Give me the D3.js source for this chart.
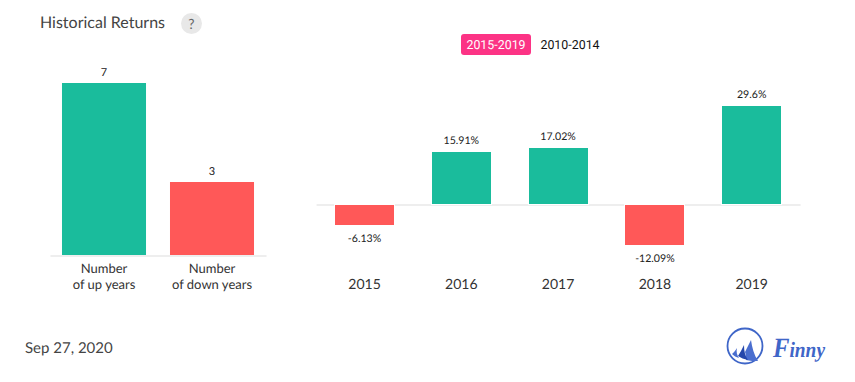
<!DOCTYPE html>
<html>
<head>
<meta charset="utf-8">
<script src="https://cdnjs.cloudflare.com/ajax/libs/d3/7.8.5/d3.min.js"></script>
<style>
  html, body { margin: 0; padding: 0; background: #fff; overflow: hidden; }
  text { font-family: Lato, sans-serif; text-rendering: geometricPrecision; }
</style>
</head>
<body>
<script>
const countLabels = ["Number of up years", "Number of down years"];
const countValues = [7, 3];
const years = ["2015", "2016", "2017", "2018", "2019"];
const returns = [-6.13, 15.91, 17.02, -12.09, 29.6];
const returnLabels = ["-6.13%", "15.91%", "17.02%", "-12.09%", "29.6%"];

const green = "#1abc9c";
const red = "#ff5858";
const axisGrey = "#e8e8e8";

const svg = d3.select("body").append("svg")
    .attr("width", 855)
    .attr("height", 382)
    .style("display", "block");

// Title and help icon
svg.append("text")
    .attr("x", 40).attr("y", 28)
    .attr("fill", "#444")
    .style("font-size", "16px")
    .text("Historical Returns");
svg.append("circle")
    .attr("cx", 191.5).attr("cy", 23.5).attr("r", 10.5)
    .attr("fill", "#e8e8e8");
svg.append("text")
    .attr("x", 191.5).attr("y", 28.5)
    .attr("text-anchor", "middle")
    .attr("fill", "#666")
    .style("font-size", "14px")
    .text("?");

// Period switch
svg.append("rect")
    .attr("x", 461).attr("y", 34).attr("width", 70).attr("height", 21).attr("rx", 3)
    .attr("fill", "#fc3385");
svg.append("text")
    .attr("x", 496).attr("y", 49)
    .attr("text-anchor", "middle")
    .attr("fill", "#fff")
    .style("font-family", "Roboto, sans-serif")
    .style("font-size", "12.4px")
    .text("2015-2019");
svg.append("text")
    .attr("x", 570).attr("y", 49)
    .attr("text-anchor", "middle")
    .attr("fill", "#111")
    .style("font-family", "Roboto, sans-serif")
    .style("font-size", "12.4px")
    .text("2010-2014");

// Left chart: number of up and down years
const xCount = d3.scaleBand()
    .domain(countLabels)
    .range([50, 266])
    .paddingInner(0.222)
    .paddingOuter(0.111);
const yCount = d3.scaleLinear().domain([0, 7]).range([255, 83]);

const xCountAxis = svg.append("g")
    .attr("transform", `translate(0,${yCount(0) + 0.5})`)
    .call(d3.axisBottom(xCount).tickSize(0).tickPadding(0).tickFormat(""));
xCountAxis.select(".domain").attr("stroke", axisGrey).attr("stroke-width", 1.5);

svg.append("g")
    .selectAll("rect")
    .data(countValues)
    .join("rect")
    .attr("x", (d, i) => xCount(countLabels[i]))
    .attr("y", d => Math.round(yCount(d) + 0.3))
    .attr("width", xCount.bandwidth())
    .attr("height", d => yCount(0) - Math.round(yCount(d) + 0.3))
    .attr("fill", (d, i) => i === 0 ? green : red);

svg.append("g")
    .selectAll("text")
    .data(countValues)
    .join("text")
    .attr("x", (d, i) => xCount(countLabels[i]) + xCount.bandwidth() / 2)
    .attr("y", d => Math.round(yCount(d) + 0.3) - 7)
    .attr("text-anchor", "middle")
    .attr("fill", "#222")
    .style("font-size", "11px")
    .text(d => d);

// Two line category labels
xCountAxis.selectAll(".tick text").each(function (d) {
    const rest = d.replace("Number ", "");
    const t = d3.select(this)
        .attr("y", 0)
        .attr("dy", null)
        .attr("fill", "#333")
        .style("font-family", "Lato, sans-serif")
        .style("font-size", "13px");
    t.append("tspan").attr("x", 0).attr("y", 17).text("Number");
    t.append("tspan").attr("x", 0).attr("y", 33.5).text(rest);
});

// Right chart: yearly returns
const xYear = d3.scaleBand()
    .domain(years)
    .range([316.1, 800.1])
    .paddingInner(0.39)
    .paddingOuter(0.195);
const yReturn = d3.scaleLinear().domain([0, 29.6]).range([204.5, 106.4]);

const zeroLine = svg.append("g")
    .attr("transform", `translate(0,${yReturn(0)})`)
    .call(d3.axisBottom(xYear).tickSize(0).tickFormat(""));
zeroLine.select(".domain").attr("stroke", axisGrey).attr("stroke-width", 1.5);

// white outline cuts the zero line next to each bar
const barTop = d => d >= 0 ? Math.round(yReturn(d)) : Math.ceil(yReturn(0));
const barBottom = d => d >= 0 ? Math.floor(yReturn(0)) : Math.round(yReturn(d));

svg.append("g")
    .selectAll("rect")
    .data(returns)
    .join("rect")
    .attr("x", (d, i) => Math.round(xYear(years[i])))
    .attr("y", barTop)
    .attr("width", Math.round(xYear.bandwidth()))
    .attr("height", d => barBottom(d) - barTop(d))
    .attr("fill", d => d >= 0 ? green : red)
    .attr("stroke", "#fff")
    .attr("stroke-width", 2)
    .style("paint-order", "stroke");

svg.append("g")
    .selectAll("text")
    .data(returns)
    .join("text")
    .attr("x", (d, i) => xYear(years[i]) + xYear.bandwidth() / 2)
    .attr("y", d => d >= 0 ? barTop(d) - 8 : barBottom(d) + 17)
    .attr("text-anchor", "middle")
    .attr("fill", "#222")
    .style("font-size", "10.6px")
    .text((d, i) => returnLabels[i]);

const yearAxis = svg.append("g")
    .attr("transform", "translate(0,273)")
    .call(d3.axisBottom(xYear).tickSize(0).tickPadding(6));
yearAxis.select(".domain").remove();
yearAxis.selectAll("text")
    .attr("fill", "#333")
    .style("font-family", "Lato, sans-serif")
    .style("font-size", "14px");

// Footer date
svg.append("text")
    .attr("x", 25).attr("y", 353)
    .attr("fill", "#444")
    .style("font-size", "15px")
    .text("Sep 27, 2020");

// Finny logo
const logo = svg.append("g");
logo.append("circle")
    .attr("cx", 745).attr("cy", 346).attr("r", 17.5)
    .attr("fill", "#fff").attr("stroke", "#3f66c8").attr("stroke-width", 1.8);
logo.append("path")
    .attr("d", "M732 354 C734 352 735 351 737 348 C736 352 737 355 739 358 C736 357 734 356 732 354 Z")
    .attr("fill", "#4a6ecf");
logo.append("path")
    .attr("d", "M745 352 C747 348 749 344 751 340 C752 347 754 355 758 361 C754 361 750 361 746 360 C746 357 746 355 745 352 Z")
    .attr("fill", "#4a6ecf");
logo.append("path")
    .attr("d", "M738 356 C740 353 742 349 744 345 C744 351 745 356 748 360 C744 359 741 358 738 356 Z")
    .attr("fill", "#2547ab");
const finny = logo.append("text")
    .attr("x", 773).attr("y", 357)
    .attr("textLength", 52)
    .attr("lengthAdjust", "spacingAndGlyphs")
    .attr("fill", "#3f66c8")
    .style("font-family", "'Liberation Serif', serif")
    .style("font-style", "italic")
    .style("font-weight", "700")
    .style("font-size", "22px");
finny.append("tspan").style("font-size", "28px").text("F");
finny.append("tspan").text("inny");
</script>
</body>
</html>
